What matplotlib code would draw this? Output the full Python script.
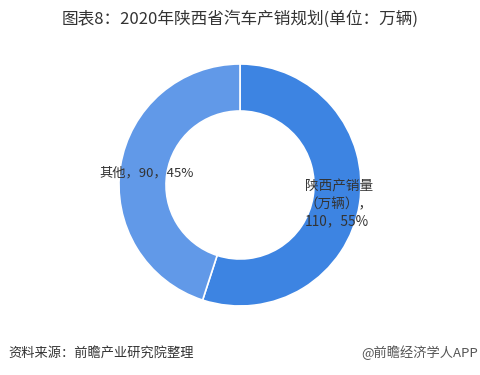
import matplotlib
matplotlib.use("Agg")
import matplotlib.pyplot as plt

plt.rcParams['font.family'] = ['Noto Sans CJK SC', 'DejaVu Sans']

categories = ["陕西产销量（万辆）", "其他"]
values = [110, 90]
percents = [55, 45]
colors = ["#3d84e2", "#6199e8"]

W, H = 481, 375
fig = plt.figure(figsize=(W / 100, H / 100), dpi=100)
ax = fig.add_axes([0, 0, 1, 1])
ax.set_xlim(0, W)
ax.set_ylim(0, H)
ax.set_aspect('equal')
ax.axis('off')

cx, cy, r = 240, H - 185, 121
ax.pie(values, colors=colors, startangle=90, counterclock=False,
       center=(cx, cy), radius=r,
       wedgeprops=dict(width=47, edgecolor='white', linewidth=1.2))
ax.set_xlim(0, W)
ax.set_ylim(0, H)

fig.text(240 / W, 1 - 19 / H, "图表8：2020年陕西省汽车产销规划(单位：万辆)",
         ha='center', va='center', fontsize=12, color='#333333')

fig.text(305 / W, 1 - 204 / H,
         f"陕西产销量\n（万辆），\n{values[0]}，{percents[0]}%",
         ha='left', va='center', fontsize=9.8, color='#333333', linespacing=1.3)
fig.text(99 / W, 1 - 173 / H, f"其他，{values[1]}，{percents[1]}%",
         ha='left', va='center', fontsize=9.5, color='#333333')

fig.text(8 / W, 1 - 353 / H, "资料来源：前瞻产业研究院整理",
         ha='left', va='center', fontsize=9.5, color='#333333', style='italic')
fig.text(478 / W, 1 - 353 / H, "@前瞻经济学人APP",
         ha='right', va='center', fontsize=9.5, color='#555555')

fig.savefig("out.png", dpi=100)
